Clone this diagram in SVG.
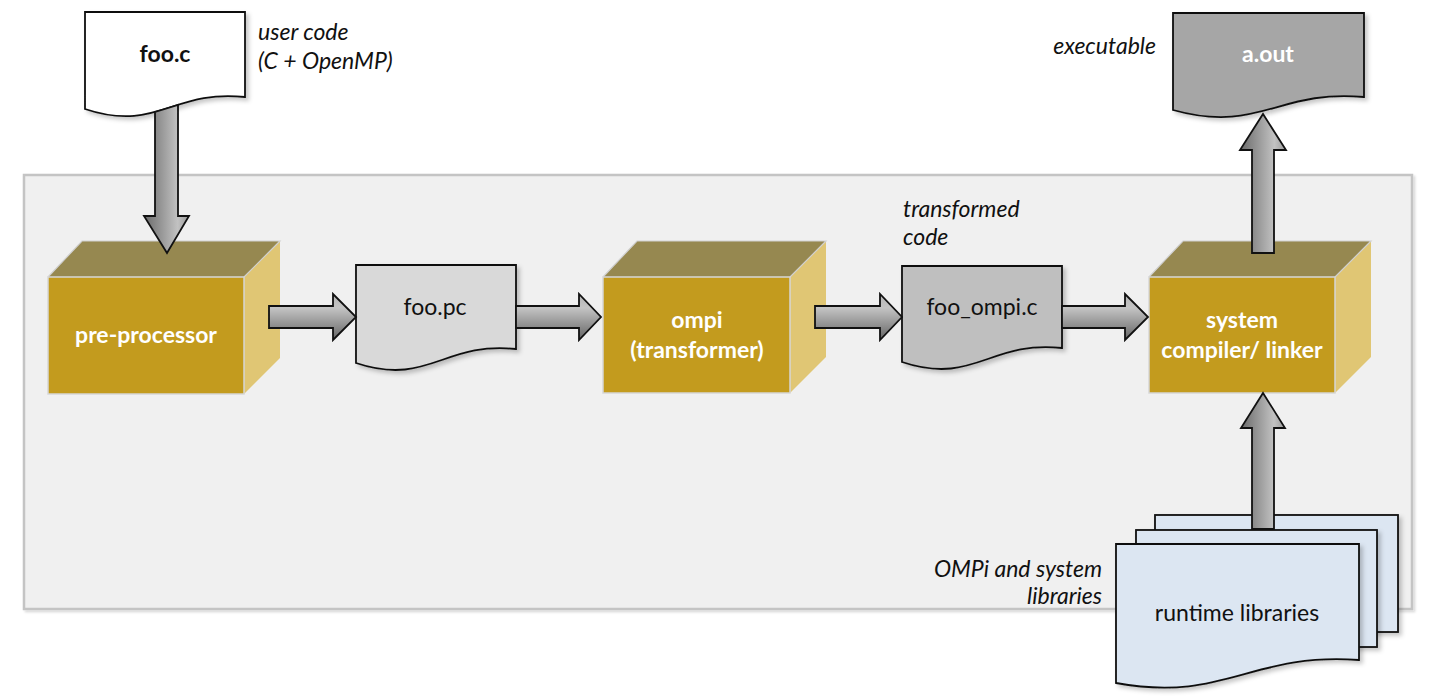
<svg xmlns="http://www.w3.org/2000/svg" width="1434" height="700" viewBox="0 0 1434 700">
<defs>
<linearGradient id="gh" x1="0" y1="0" x2="0" y2="1">
<stop offset="0" stop-color="#b4b4b4"/><stop offset="0.3" stop-color="#c4c4c4"/><stop offset="1" stop-color="#646464"/>
</linearGradient>
<linearGradient id="gv" x1="0" y1="0" x2="1" y2="0">
<stop offset="0" stop-color="#6a6a6a"/><stop offset="0.75" stop-color="#c2c2c2"/><stop offset="1" stop-color="#9a9a9a"/>
</linearGradient>
<filter id="sh" x="-10%" y="-10%" width="130%" height="130%">
<feDropShadow dx="3" dy="3" stdDeviation="2" flood-color="#000" flood-opacity="0.22"/>
</filter>
<filter id="psh" x="-5%" y="-5%" width="110%" height="110%">
<feDropShadow dx="2" dy="2" stdDeviation="1" flood-color="#000" flood-opacity="0.15"/>
</filter>
</defs>
<style>
text{font-family:Lato,"Open Sans","DejaVu Sans",sans-serif;font-size:23px;}
.lbl{font-style:italic;fill:#111;}
.doc{stroke:#111;stroke-width:1.8;stroke-linejoin:miter;filter:url(#sh);}
.top{fill:#968850;}
.front{fill:#c39b1e;stroke:#d6d6d6;stroke-width:1.5;}
.side{fill:#e0c674;}
.cedge{fill:none;stroke:#d0d0d0;stroke-width:1.2;}
.ct{fill:#fff;font-weight:bold;text-anchor:middle;}
.dt{fill:#111;text-anchor:middle;}
.arr{stroke:#111;stroke-width:1.8;stroke-linejoin:miter;}
</style>
<rect x="0" y="0" width="1434" height="700" fill="#fff"/>
<g id="panel">
<rect x="24" y="175" width="1388" height="434" fill="#f0f0f0" stroke="#c4c4c4" stroke-width="2.5" filter="url(#psh)"/>
</g>
<g id="preprocessor">
<polygon class="top" points="48,277 82,241 280,241 244,277"/>
<polygon class="side" points="244,277 280,241 280,358 244,394"/>
<polyline class="cedge" points="48,277 82,241 280,241 244,277"/>
<rect class="front" x="48" y="277" width="196" height="117"/>
<text class="ct" x="146" y="343">pre-processor</text>
</g>
<g id="ompi">
<polygon class="top" points="603,277 637,241 826,241 790,277"/>
<polygon class="side" points="790,277 826,241 826,357 790,393"/>
<polyline class="cedge" points="603,277 637,241 826,241 790,277"/>
<rect class="front" x="603" y="277" width="187" height="116"/>
<text class="ct" x="697" y="328">ompi</text>
<text class="ct" x="697" y="358">(transformer)</text>
</g>
<g id="compiler">
<polygon class="top" points="1149,277 1183,241 1371,241 1335,277"/>
<polygon class="side" points="1335,277 1371,241 1371,357 1335,393"/>
<polyline class="cedge" points="1149,277 1183,241 1371,241 1335,277"/>
<rect class="front" x="1149" y="277" width="186" height="116"/>
<text class="ct" x="1242" y="328">system</text>
<text class="ct" x="1242" y="358">compiler/ linker</text>
</g>
<g id="fooc">
<path class="doc" fill="#ffffff" d="M85,12 H245 V97 C173,89 157,133 85,109 Z"/>
<text class="dt" x="165" y="62" font-weight="bold">foo.c</text>
<text class="lbl" x="258" y="40">user code</text>
<text class="lbl" x="258" y="69">(C + OpenMP)</text>
</g>
<g id="foopc">
<path class="doc" fill="#d9d9d9" d="M356,265 H516 V349 C444,341 428,387 356,363 Z"/>
<text class="dt" x="435" y="315">foo.pc</text>
</g>
<g id="fooompi">
<path class="doc" fill="#bfbfbf" d="M902,266 H1062 V348 C990,340 974,386 902,362 Z"/>
<text class="dt" x="982" y="315">foo_ompi.c</text>
<text class="lbl" x="903" y="217">transformed</text>
<text class="lbl" x="903" y="245">code</text>
</g>
<g id="aout">
<path class="doc" fill="#a6a6a6" d="M1173,13 H1364 V97 C1278,89 1259,134 1173,110 Z"/>
<text class="ct" x="1268" y="62">a.out</text>
<text class="lbl" x="1156" y="54" text-anchor="end">executable</text>
</g>
<g id="runtime">
<rect class="doc" fill="#dce6f2" x="1155" y="515" width="243" height="117"/>
<rect class="doc" fill="#dce6f2" x="1136" y="530" width="241" height="117"/>
<path class="doc" fill="#dce6f2" d="M1116,544 H1359 V660 C1250,652 1225,703 1116,683 Z"/>
<text class="dt" x="1237" y="621">runtime libraries</text>
<text class="lbl" x="1102" y="577" text-anchor="end">OMPi and system</text>
<text class="lbl" x="1102" y="604" text-anchor="end">libraries</text>
</g>
<g id="connectors">
<path class="arr" fill="url(#gv)" d="M155,112 L178,105 V216 H189 L167,253 L144,216 H155 Z"/>
<path class="arr" fill="url(#gh)" d="M269,306 H333 V294 L356,317 L333,340 V328 H269 Z"/>
<path class="arr" fill="url(#gh)" d="M516,306 H579 V294 L601,317 L579,340 V328 H516 Z"/>
<path class="arr" fill="url(#gh)" d="M815,306 H880 V294 L902,317 L880,340 V328 H815 Z"/>
<path class="arr" fill="url(#gh)" d="M1062,306 H1125 V294 L1148,317 L1125,340 V328 H1062 Z"/>
<path class="arr" fill="url(#gv)" d="M1252,253 V150 H1240 L1263,114 L1286,150 H1274 V253 Z"/>
<path class="arr" fill="url(#gv)" d="M1252,529 V428 H1241 L1263,393 L1285,428 H1274 V529 Z"/>
</g>
</svg>
